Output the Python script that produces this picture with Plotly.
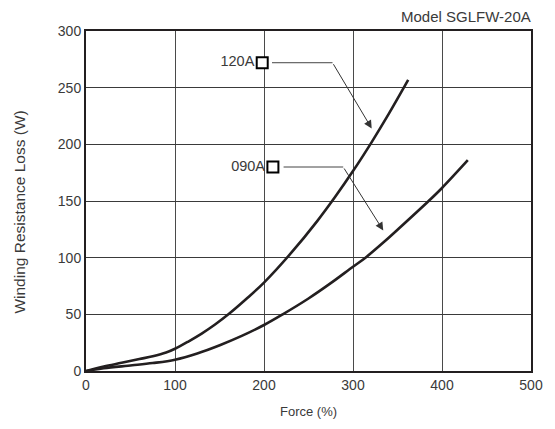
import plotly.graph_objects as go

# Data
force_120a = [0, 20, 40, 60, 75, 90, 100, 115, 130, 145, 160, 180, 200, 230, 260, 280,
              300, 321, 340, 362]
loss_120a = [0, 4, 7.2, 10.5, 13, 16.3, 19.6, 26, 33, 41, 50, 63.5, 78, 103.7, 132.5,
             153.7, 176.4, 202, 226.6, 256.8]

force_090a = [0, 20, 52, 75, 100, 125, 151, 175, 200, 221, 250, 275, 300, 314, 335, 354,
              385, 400, 429]
loss_090a = [0, 2.5, 5, 7, 10, 15.5, 23, 31, 40.6, 50, 64, 77.5, 92, 100, 114, 127.5,
             150, 161.5, 186]

labels = ["120A", "090A"]
label_force = [198, 210]
label_loss = [272, 180]
line_start_force = [209, 222]
bend_force = [277, 289]
tip_force = [321, 334]
tip_loss = [214, 124]

x_ticks = [0, 100, 200, 300, 400, 500]
y_ticks = [0, 50, 100, 150, 200, 250, 300]

ink = "#231f20"
txt = "#3a3a3a"
font_family = "Liberation Sans, Arial, sans-serif"

fig = go.Figure()
fig.add_trace(go.Scatter(x=force_120a, y=loss_120a, mode="lines",
                         line=dict(color=ink, width=2.6, shape="spline", smoothing=1.0),
                         showlegend=False, hoverinfo="skip"))
fig.add_trace(go.Scatter(x=force_090a, y=loss_090a, mode="lines",
                         line=dict(color=ink, width=2.6, shape="spline", smoothing=1.0),
                         showlegend=False, hoverinfo="skip"))

# leader lines
for i in range(2):
    fig.add_shape(type="line", x0=line_start_force[i], y0=label_loss[i],
                  x1=bend_force[i], y1=label_loss[i],
                  line=dict(color="#444444", width=1))
    fig.add_annotation(x=tip_force[i], y=tip_loss[i], ax=bend_force[i], ay=label_loss[i],
                       xref="x", yref="y", axref="x", ayref="y", text="",
                       showarrow=True, arrowhead=2, arrowsize=1.6, arrowwidth=1,
                       arrowcolor="#333333")

fig.add_trace(go.Scatter(x=label_force, y=label_loss, mode="markers+text",
                         marker=dict(symbol="square", size=11, color="white",
                                     line=dict(color="black", width=2)),
                         text=labels, textposition="middle left",
                         textfont=dict(size=14.5, color=txt, family=font_family),
                         showlegend=False, hoverinfo="skip", cliponaxis=False))

fig.add_annotation(text="Model SGLFW-20A", xref="paper", yref="paper", x=1.005, y=1,
                   xanchor="right", yanchor="bottom", yshift=4, showarrow=False,
                   font=dict(size=15, color=txt, family=font_family))
fig.add_annotation(text="Winding Resistance Loss (W)", xref="paper", yref="paper",
                   x=-0.149, y=0.468, xanchor="center", yanchor="middle", textangle=-90,
                   showarrow=False, font=dict(size=15.5, color=txt, family=font_family))
fig.add_annotation(text="Force (%)", xref="paper", yref="paper",
                   x=0.5, y=-0.118, xanchor="center", yanchor="middle",
                   showarrow=False, font=dict(size=13, color=txt, family=font_family))

fig.update_layout(
    width=555, height=429,
    margin=dict(l=86, r=12, t=31, b=58),
    plot_bgcolor="white", paper_bgcolor="white",
    font=dict(family=font_family, size=14, color=txt),
    xaxis=dict(range=[0, 500], tickvals=x_ticks, showgrid=True, gridcolor="#4a4a4a",
               gridwidth=1, zeroline=False, showline=True, linecolor=ink, linewidth=2,
               mirror=True, ticks="", tickfont=dict(size=14, color=txt)),
    yaxis=dict(range=[0, 300], tickvals=y_ticks, showgrid=True, gridcolor="#3a3a3a",
               gridwidth=1, zeroline=False, showline=True, linecolor=ink, linewidth=2,
               mirror=True, ticks="", tickfont=dict(size=14, color=txt)),
)

fig.write_html("out.html", config={"displayModeBar": False},
               post_script="document.body.style.margin='0';document.body.style.overflow='hidden';")
